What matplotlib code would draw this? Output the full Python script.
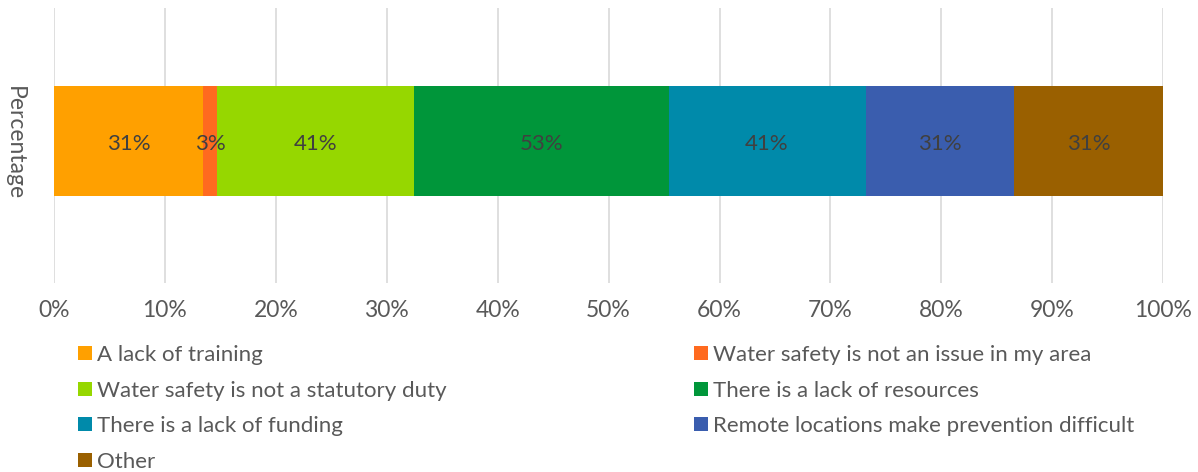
import matplotlib.pyplot as plt
import numpy as np

# survey answers (raw percentages shown in the labels)
categories = ["A lack of training", "Water safety is not an issue in my area",
              "Water safety is not a statutory duty", "There is a lack of resources",
              "There is a lack of funding", "Remote locations make prevention difficult",
              "Other"]
values = [31, 3, 41, 53, 41, 31, 31]
colors = ["#FFA000", "#FF6A1F", "#96D700", "#00963A", "#008AAA", "#3A5DAE", "#9A6000"]
row_label = "Percentage"
tick_vals = np.arange(0, 101, 10)

plt.rcParams['font.family'] = ['Lato', 'DejaVu Sans']
txt = "#595959"

fig = plt.figure(figsize=(11.98, 4.72), dpi=100)
ax = fig.add_axes([0.045, 0.40, 0.926, 0.583])

total = sum(values)
shares = [v / total * 100 for v in values]
left = 0
handles = []
for cat, v, s, c in zip(categories, values, shares, colors):
    b = ax.barh(0, s, left=left, height=0.4, color=c, label=cat, zorder=3)
    handles.append(b)
    ax.text(left + s / 2, -0.01, f"{v}%", ha="center", va="center",
            fontsize=16, color="#404040", zorder=4)
    left += s

ax.set_xlim(0, 100)
ax.set_ylim(-0.52, 0.485)
ax.set_xticks(tick_vals)
ax.set_xticklabels([f"{t}%" for t in tick_vals], fontsize=16.5, color=txt)
ax.set_yticks([])
ax.grid(axis="x", color="#d9d9d9", linewidth=1.2, zorder=0)
ax.tick_params(axis="x", length=0, pad=12)
for sp in ax.spines.values():
    sp.set_visible(False)

fig.text(0.012, 0.697, row_label, rotation=-90, ha="center", va="center",
         fontsize=16.5, color=txt)

# legend laid out in two columns like the source
col1 = [0, 2, 4, 6]
col2 = [1, 3, 5]
kw = dict(frameon=False, fontsize=16, labelcolor=txt, handlelength=0.6,
          handleheight=0.6, handletextpad=0.25, labelspacing=0.7,
          borderaxespad=0, borderpad=0)
fig.legend([handles[i] for i in col1], [categories[i] for i in col1],
           loc="upper left", bbox_to_anchor=(0.0655, 0.269), **kw)
fig.legend([handles[i] for i in col2], [categories[i] for i in col2],
           loc="upper left", bbox_to_anchor=(0.5795, 0.269), **kw)

fig.savefig("out.png", dpi=100)
